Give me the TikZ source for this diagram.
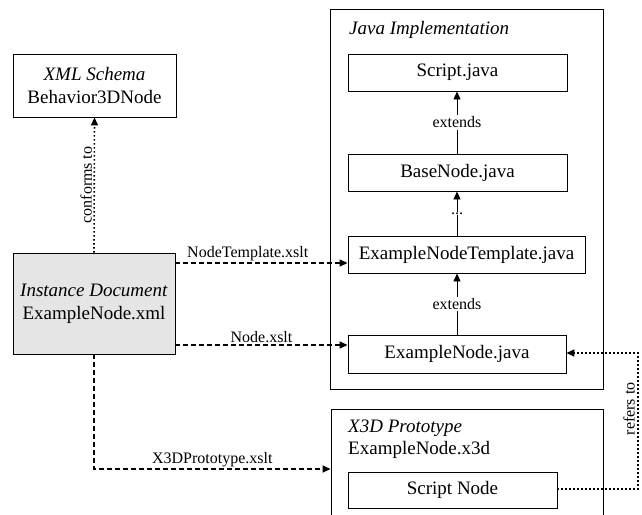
\documentclass[tikz,border=0pt]{standalone}
\usepackage{fontspec}
\setmainfont{Liberation Serif}
\usetikzlibrary{arrows.meta}
\begin{document}
\begin{tikzpicture}[x=1pt,y=-1pt,
 box/.style={draw, line width=0.9pt, rectangle, inner sep=0pt, align=center, font=\fontsize{19}{23}\selectfont},
 frame/.style={draw, line width=0.9pt, rectangle, inner sep=0pt},
 ttl/.style={anchor=west, inner sep=0pt, font=\fontsize{19}{23}\selectfont},
 lbl/.style={font=\fontsize{16}{19}\selectfont, inner sep=1.5pt},
 tip/.style={-{Triangle[length=8pt,width=7pt]}},
 dsh/.style={line width=1.4pt, dash pattern=on 5pt off 3pt, tip},
 dtt/.style={line width=1.6pt, dash pattern=on 1.4pt off 2.6pt, tip},
 sld/.style={line width=0.9pt, tip}]
\useasboundingbox (0,0) rectangle (642,514);
\clip (0,0) rectangle (642,514);
% left boxes
\node[box, minimum width=163pt, minimum height=63pt] (xml) at (94.5,85.5) {\textit{XML Schema}\\Behavior3DNode};
\node[box, fill=black!10, minimum width=162pt, minimum height=101pt] (inst) at (94,303.5) {\textit{Instance Document}\\ExampleNode.xml};
% Java frame
\node[frame, minimum width=273pt, minimum height=380pt] (java) at (466.5,199) {};
\node[ttl] (javat) at (349,30) {\textit{Java Implementation}};
\node[box, minimum width=219pt, minimum height=37pt] (script) at (457.5,72.5) {Script.java};
\node[box, minimum width=219pt, minimum height=37pt] (base) at (457.5,172.5) {BaseNode.java};
\node[box, minimum width=237pt, minimum height=37pt] (ent) at (466.5,254.5) {ExampleNodeTemplate.java};
\node[box, minimum width=218pt, minimum height=38pt] (enj) at (457,354) {ExampleNode.java};
% X3D frame
\node[frame, minimum width=272pt, minimum height=131pt] (x3d) at (467,474.5) {};
\node[ttl] (x3dt) at (348,428) {\textit{X3D Prototype}};
\node[ttl] (x3df) at (348,450) {ExampleNode.x3d};
\node[box, minimum width=209pt, minimum height=36pt] (snode) at (452.5,490) {Script Node};
% helper coordinates
\coordinate (y1) at (0,263);
\coordinate (y2) at (0,345);
\coordinate (y3) at (0,469);
\coordinate (ax) at (457,0);
\coordinate (r1) at (638,489);
\coordinate (r2) at (638,353);
% connectors
\draw[dtt] (inst.north) -- node[lbl, sloped, above] {conforms to} (xml.south);
\draw[dsh] (inst.east |- y1) -- node[lbl, above, pos=0.42] {NodeTemplate.xslt} (ent.west |- y1);
\draw[dsh] (inst.east |- y2) -- node[lbl, above, pos=0.5] {Node.xslt} (enj.west |- y2);
\draw[dsh] (inst.south) |- node[lbl, above, pos=0.75] {X3DPrototype.xslt} (x3d.west |- y3);
\draw[sld] (enj.north -| ax) -- node[lbl, fill=white] {extends} (ent.south -| ax);
\draw[sld] (ent.north -| ax) -- node[lbl, fill=white, inner sep=0.5pt] {...} (base.south -| ax);
\draw[sld] (base.north -| ax) -- node[lbl, fill=white] {extends} (script.south -| ax);
\draw[dtt] (snode.east |- r1) -- (r1) -- node[lbl, sloped, above, pos=0.59, inner sep=2.5pt] {refers to} (r2) -- (enj.east |- r2);
\end{tikzpicture}
\end{document}
